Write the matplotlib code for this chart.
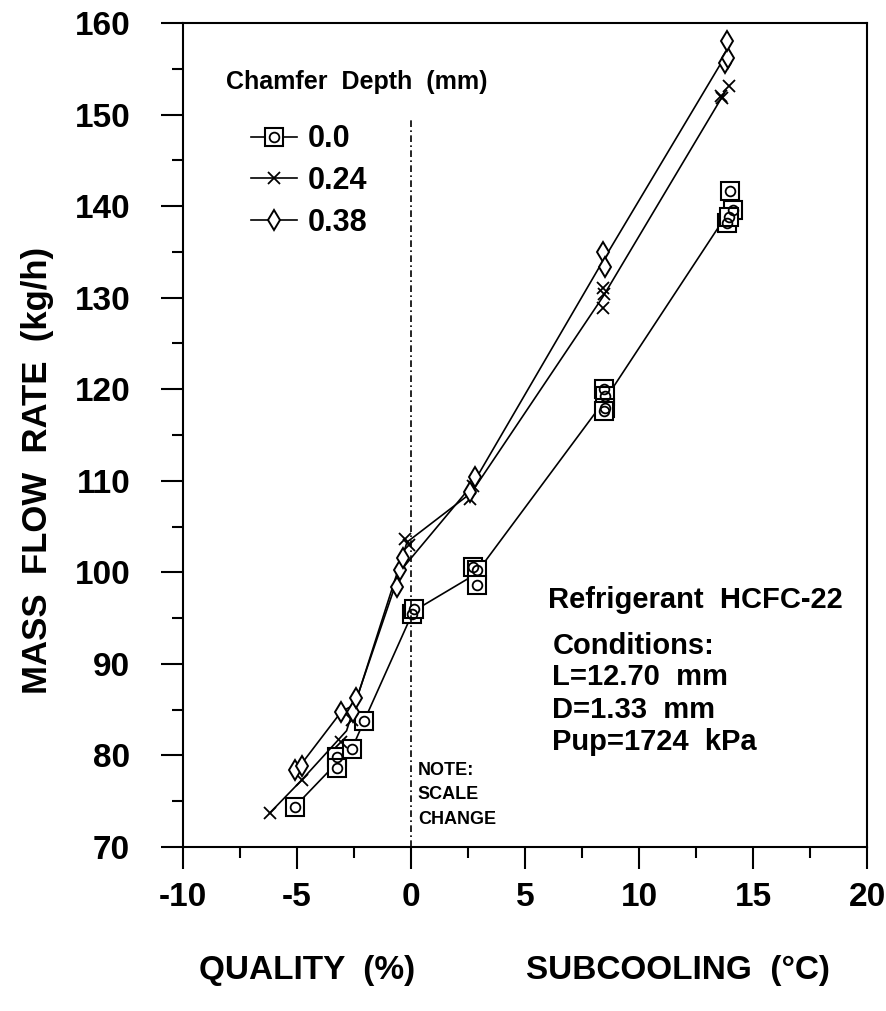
import matplotlib
matplotlib.use("Agg")
import matplotlib.pyplot as plt
import numpy as np
from matplotlib.ticker import MultipleLocator
from matplotlib.lines import Line2D

# chamfer depth 0.0 mm
sq_x = [-5.1, -3.25, -3.25, -2.6, -2.05, 0.05, 0.15, 2.7, 2.9, 2.9,
        8.45, 8.5, 8.5, 8.45, 13.85, 14.0, 14.1, 13.95]
sq_y = [74.4, 79.8, 78.6, 80.7, 83.8, 95.5, 96.0, 100.6, 100.2, 98.6,
        120.0, 119.3, 118.0, 117.6, 138.2, 141.6, 139.6, 138.8]

# chamfer depth 0.24 mm
cx_x = [-6.2, -4.8, -3.05, -2.6, -0.25, -0.1, 2.6, 2.7,
        8.4, 8.45, 8.4, 13.6, 13.65, 13.95]
cx_y = [73.7, 77.3, 81.5, 83.9, 103.6, 103.0, 108.0, 109.4,
        131.0, 130.4, 128.9, 152.0, 151.8, 153.1]

# chamfer depth 0.38 mm
dm_x = [-5.1, -4.8, -3.05, -2.55, -2.4, -0.6, -0.5, -0.35,
        2.6, 2.8, 8.4, 8.5, 13.75, 13.9, 13.85]
dm_y = [78.4, 78.8, 84.8, 84.8, 86.3, 98.4, 100.3, 101.6,
        108.8, 110.4, 135.0, 133.3, 155.6, 156.2, 158.0]

labels = ["0.0", "0.24", "0.38"]
x_ticks = [-10, -5, 0, 5, 10, 15, 20]
x_ticklabels = ["-10", "-5", "0", "5", "10", "15", "20"]
y_ticks = [70, 80, 90, 100, 110, 120, 130, 140, 150, 160]

plt.rcParams["font.family"] = ["Liberation Sans", "DejaVu Sans"]
plt.rcParams["font.weight"] = "bold"


def group_means(x, y, gap=0.45):
    # repeated runs sit at nearly the same x, the curve goes through their mean
    order = np.argsort(x)
    xs = np.asarray(x, float)[order]
    ys = np.asarray(y, float)[order]
    cut = np.where(np.diff(xs) > gap)[0] + 1
    return ([g.mean() for g in np.split(xs, cut)],
            [g.mean() for g in np.split(ys, cut)])


fig = plt.figure(figsize=(8.87, 10.11), dpi=100)
ax = fig.add_axes([0.2063, 0.1622, 0.7712, 0.8151])

lw = 1.2
sq_style = dict(marker="s", ms=13.5, mfc="white", mec="k", mew=1.5)
dot_style = dict(marker="o", ms=7, mfc="none", mec="k", mew=1.3)
cx_style = dict(marker="x", ms=9, mec="k", mew=1.3)
dm_style = dict(marker="d", ms=10.5, mfc="white", mec="k", mew=1.4)

mx, my = group_means(sq_x, sq_y)
ax.plot(mx, my, color="k", lw=lw)
ax.plot(sq_x, sq_y, ls="none", **sq_style)
ax.plot(sq_x, sq_y, ls="none", **dot_style)

mx, my = group_means(cx_x, cx_y)
ax.plot(mx, my, color="k", lw=lw)
ax.plot(cx_x, cx_y, ls="none", **cx_style)

mx, my = group_means(dm_x, dm_y)
ax.plot(mx, my, color="k", lw=lw)
ax.plot(dm_x, dm_y, ls="none", **dm_style)

# quality / subcooling boundary
ax.plot([0, 0], [70, 149.5], color="k", lw=1.2, dashes=(4, 2, 1, 2))

ax.set_xlim(-10, 20)
ax.set_ylim(70, 160)
ax.set_xticks(x_ticks)
ax.set_xticklabels(x_ticklabels)
ax.set_yticks(y_ticks)
ax.xaxis.set_minor_locator(MultipleLocator(2.5))
ax.yaxis.set_minor_locator(MultipleLocator(5))
ax.tick_params(which="both", direction="out", top=False, right=False, width=1.5)
ax.tick_params(which="major", length=16, labelsize=24)
ax.tick_params(which="minor", length=8)
ax.tick_params(axis="x", pad=9)
ax.tick_params(axis="y", pad=22)
for s in ax.spines.values():
    s.set_linewidth(1.5)

h_sq = (Line2D([], [], color="k", lw=lw, **sq_style), Line2D([], [], ls="none", **dot_style))
h_cx = Line2D([], [], color="k", lw=lw, **cx_style)
h_dm = Line2D([], [], color="k", lw=lw, **dm_style)
ax.legend([h_sq, h_cx, h_dm], labels, loc="upper left", bbox_to_anchor=(0.1, 0.877),
          frameon=False, fontsize=22, borderpad=0, borderaxespad=0, numpoints=1,
          handlelength=1.5, handletextpad=0.35, labelspacing=0.38)
ax.text(0.063, 0.928, "Chamfer  Depth  (mm)", transform=ax.transAxes,
        fontsize=18, ha="left", va="center")

ax.text(6.0, 97.0, "Refrigerant  HCFC-22", fontsize=21, ha="left", va="center")
cond = ["Conditions:", "L=12.70  mm", "D=1.33  mm", "Pup=1724  kPa"]
for txt, yy in zip(cond, [92.0, 88.6, 85.0, 81.5]):
    ax.text(6.2, yy, txt, fontsize=21, ha="left", va="center")

for txt, yy in zip(["NOTE:", "SCALE", "CHANGE"], [78.4, 75.7, 73.0]):
    ax.text(0.3, yy, txt, fontsize=13, ha="left", va="center")

fig.text(38 / 887, 1 - 470 / 1011, "MASS  FLOW  RATE  (kg/h)", rotation=90,
         fontsize=25, ha="center", va="center")
fig.text(307 / 887, 1 - 970 / 1011, "QUALITY  (%)", fontsize=24, ha="center", va="center")
fig.text(678 / 887, 1 - 970 / 1011, "SUBCOOLING  (°C)", fontsize=24, ha="center", va="center")

fig.savefig("out.png", dpi=100)
